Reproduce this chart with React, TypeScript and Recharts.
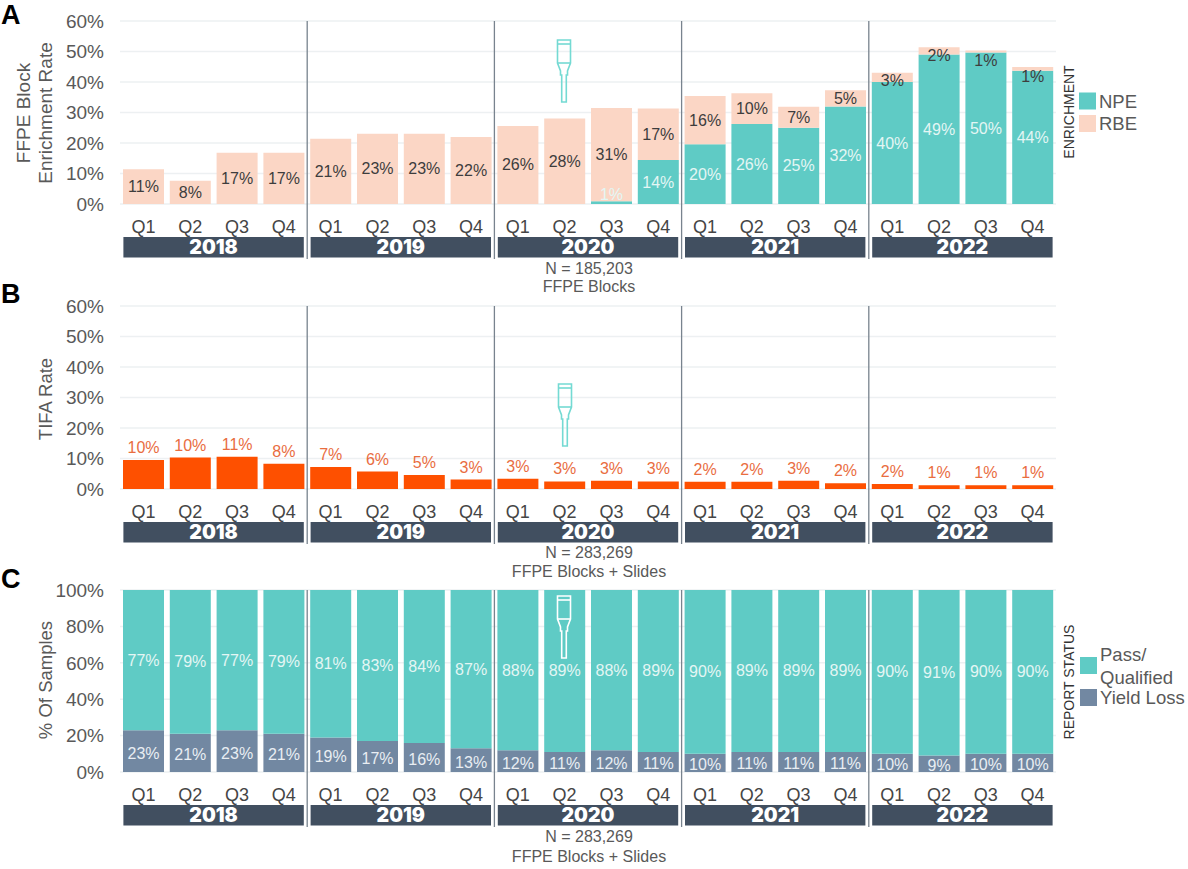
import { BarChart, Bar, XAxis, YAxis, CartesianGrid, LabelList } from 'recharts'

const quarters = ['Q1', 'Q2', 'Q3', 'Q4']
const years = ['2018', '2019', '2020', '2021', '2022']

const npe = [null, null, null, null, null, null, null, null, null, null, 0.9, 14.4, 19.6, 26.2, 25, 32, 40, 49, 49.7, 43.7]
const rbe = [11.4, 7.6, 16.8, 16.8, 21.4, 23, 23, 22, 25.6, 28, 30.6, 16.9, 15.8, 10.1, 6.9, 5.3, 3, 2.4, 0.6, 1.2]
const tifa = [9.5, 10.3, 10.6, 8.3, 7.2, 5.7, 4.6, 3.1, 3.4, 2.5, 2.7, 2.5, 2.4, 2.4, 2.7, 1.9, 1.6, 1.2, 1.2, 1.2]
const pass = [77, 79, 77, 79, 81, 83, 84, 87, 88, 89, 88, 89, 90, 89, 89, 89, 90, 91, 90, 90]
const yieldLoss = [23, 21, 23, 21, 19, 17, 16, 13, 12, 11, 12, 11, 10, 11, 11, 11, 10, 9, 10, 10]

const rateTicks = [0, 10, 20, 30, 40, 50, 60]
const statusTicks = [0, 20, 40, 60, 80, 100]

const labels = years.flatMap((y) => quarters.map((q) => ({ q, year: y })))
const enrichmentData = labels.map((l, i) => ({ ...l, npe: npe[i], rbe: rbe[i] }))
const tifaData = labels.map((l, i) => ({ ...l, tifa: tifa[i] }))
const statusData = labels.map((l, i) => ({ ...l, pass: pass[i], yieldLoss: yieldLoss[i] }))

const FONT = '"Liberation Sans", Arial, sans-serif'
const TEXT = '#595959'
const TEAL = '#5fcbc5'
const PEACH = '#fbd6c5'
const ORANGE = '#fe5000'
const SLATE = '#7288a2'
const NAVY = '#414f60'
const W = 1188
const PITCH = 46.8

// year strip under the quarters, also draws the divider up through the plot
const yearTick = (plotH: number) => (p: any) => {
  if (p.index % 4 !== 0) return <g />
  const left = p.x - 20
  const right = p.x + 3 * PITCH + 20
  const divX = p.x - PITCH / 2
  return (
    <g>
      {p.index > 0 && <line x1={divX} x2={divX} y1={p.y - plotH - 33} y2={p.y + 22} stroke="#78838e" strokeWidth={1.3} />}
      <rect x={left} y={p.y} width={right - left} height={20.5} fill={NAVY} />
      <text x={(left + right) / 2} y={p.y + 17} textAnchor="middle" fill="#fff" fontFamily="Inter" fontWeight={900} fontSize={19.5}>
        {p.payload.value}
      </text>
    </g>
  )
}

// thin segments push their label out of the bar: side 1 downwards, side -1 upwards
const segLabel = (fill: string, side = 1, nudge = 0) => (p: any) => {
  if (p.value == null) return null
  const h = Math.abs(p.height)
  const shift = Math.max(0, 13 - h) * 0.8 * side + nudge
  return (
    <text x={p.x + p.width / 2} y={p.y + p.height / 2 + shift} dy={5.5} textAnchor="middle" fill={fill} fontSize={16} fontFamily={FONT}>
      {Math.round(p.value)}%
    </text>
  )
}

const pct = (v: number) => `${v}%`

function Axes(plotH: number, ticks: number[], max: number) {
  return [
    <CartesianGrid key="g" vertical={false} stroke="#edf0f2" strokeWidth={1.5} />,
    <XAxis key="x" xAxisId="q" dataKey="q" interval={0} height={33} axisLine={false} tickLine={false} tickSize={0} tickMargin={0}
      tick={{ fontSize: 18, fill: '#454545', fontFamily: FONT }} dy={16} />,
    <XAxis key="y" xAxisId="year" dataKey="year" interval={0} height={21} axisLine={false} tickLine={false} tickSize={0} tickMargin={0}
      tick={yearTick(plotH)} />,
    <YAxis key="v" width={60} domain={[0, max]} ticks={ticks} tickFormatter={pct} axisLine={false} tickLine={false} tickSize={0} tickMargin={16}
      tick={{ fontSize: 19, fill: TEXT, fontFamily: FONT }} interval={0} />,
  ]
}

const chartBox = (top: number): any => ({ position: 'absolute', left: 0, top })

function Needle({ x, y, color }: { x: number; y: number; color: string }) {
  return (
    <g transform={`translate(${x},${y})`} fill="none" stroke={color} strokeWidth={1.6}>
      <path d="M-6.5 0 L6.5 0 L6.5 23 L3.5 31 L3.5 35 L2.3 35 L2.3 62 L-2.3 62 L-2.3 35 L-3.5 35 L-3.5 31 L-6.5 23 Z" />
      <path d="M-6.5 4 L6.5 4" />
      <path d="M-6.5 23 L6.5 23" />
    </g>
  )
}

function Rotated({ x, y, children, size, fill = TEXT }: any) {
  return (
    <text transform={`translate(${x},${y}) rotate(-90)`} textAnchor="middle" dominantBaseline="central" fontSize={size} fill={fill} fontFamily={FONT}>
      {children}
    </text>
  )
}

function Note({ y, children }: any) {
  return (
    <text x={589} y={y} textAnchor="middle" dominantBaseline="central" fontSize={16} fill={TEXT} fontFamily={FONT}>
      {children}
    </text>
  )
}

function Swatch({ y, x, fill, label, labelY }: any) {
  return (
    <g>
      <rect x={x} y={y} width={17} height={17} fill={fill} />
      {label && (
        <text x={x + 20} y={labelY ?? y + 8.5} dominantBaseline="central" fontSize={18.5} fill={TEXT} fontFamily={FONT}>
          {label}
        </text>
      )}
    </g>
  )
}

function Letter({ y, children }: any) {
  return (
    <text x={1} y={y} fontSize={27} fontWeight={700} fill="#000" fontFamily={FONT}>
      {children}
    </text>
  )
}

export default function App() {
  return (
    <div style={{ position: 'absolute', left: 0, top: 0, width: W, height: 869, background: '#fff', overflow: 'hidden' }}>
      <div style={chartBox(0)}>
        <BarChart width={W} height={262} data={enrichmentData} barCategoryGap={3} margin={{ top: 21, right: 132, bottom: 4, left: 60 }}>
          {Axes(183, rateTicks, 60)}
          <Bar dataKey="npe" stackId="a" xAxisId="q" fill={TEAL} isAnimationActive={false}>
            <LabelList dataKey="npe" content={segLabel('#e4f6f4', -1)} />
          </Bar>
          <Bar dataKey="rbe" stackId="a" xAxisId="q" fill={PEACH} isAnimationActive={false}>
            <LabelList dataKey="rbe" content={segLabel('#3d3d3d')} />
          </Bar>
        </BarChart>
      </div>
      <div style={chartBox(285)}>
        <BarChart width={W} height={262} data={tifaData} barCategoryGap={3} margin={{ top: 21, right: 132, bottom: 4, left: 60 }}>
          {Axes(183, rateTicks, 60)}
          <Bar dataKey="tifa" xAxisId="q" fill={ORANGE} isAnimationActive={false}>
            <LabelList dataKey="tifa" position="top" offset={7} formatter={(v: number) => `${Math.round(v)}%`}
              style={{ fontSize: 16, fill: '#e96d3f', fontFamily: FONT }} />
          </Bar>
        </BarChart>
      </div>
      <div style={chartBox(570)}>
        <BarChart width={W} height={261} data={statusData} barCategoryGap={3} margin={{ top: 20, right: 132, bottom: 5, left: 60 }}>
          {Axes(182, statusTicks, 100)}
          <Bar dataKey="yieldLoss" stackId="a" xAxisId="q" fill={SLATE} isAnimationActive={false}>
            <LabelList dataKey="yieldLoss" content={segLabel('#e9eef3', 1, 2)} />
          </Bar>
          <Bar dataKey="pass" stackId="a" xAxisId="q" fill={TEAL} isAnimationActive={false}>
            <LabelList dataKey="pass" content={segLabel('#e4f6f4')} />
          </Bar>
        </BarChart>
      </div>

      <svg width={W} height={869} style={{ position: 'absolute', left: 0, top: 0, pointerEvents: 'none' }}>
        <Letter y={24}>A</Letter>
        <Letter y={303}>B</Letter>
        <Letter y={588}>C</Letter>

        <Rotated x={23} y={113} size={19}>FFPE Block</Rotated>
        <Rotated x={45} y={113} size={19}>Enrichment Rate</Rotated>
        <Rotated x={45} y={399} size={18.5}>TIFA Rate</Rotated>
        <Rotated x={45} y={680} size={18.5}>% Of Samples</Rotated>

        <Note y={268}>N = 185,203</Note>
        <Note y={286}>FFPE Blocks</Note>
        <Note y={552}>N = 283,269</Note>
        <Note y={571}>FFPE Blocks + Slides</Note>
        <Note y={836}>N = 283,269</Note>
        <Note y={856}>FFPE Blocks + Slides</Note>

        <Needle x={564} y={40} color="#74dad3" />
        <Needle x={565} y={384} color="#74dad3" />
        <Needle x={564} y={596} color="#ffffff" />

        <Rotated x={1069} y={112} size={14} fill="#333">ENRICHMENT</Rotated>
        <Swatch x={1079} y={92.5} fill={TEAL} label="NPE" />
        <Swatch x={1079} y={115} fill={PEACH} label="RBE" />

        <Rotated x={1069} y={682} size={14} fill="#333">REPORT STATUS</Rotated>
        <Swatch x={1080} y={657} fill={TEAL} label="Pass/" labelY={654} />
        <text x={1100} y={677} dominantBaseline="central" fontSize={18.5} fill={TEXT} fontFamily={FONT}>Qualified</text>
        <Swatch x={1080} y={689} fill={SLATE} label="Yield Loss" labelY={697} />
      </svg>
    </div>
  )
}
